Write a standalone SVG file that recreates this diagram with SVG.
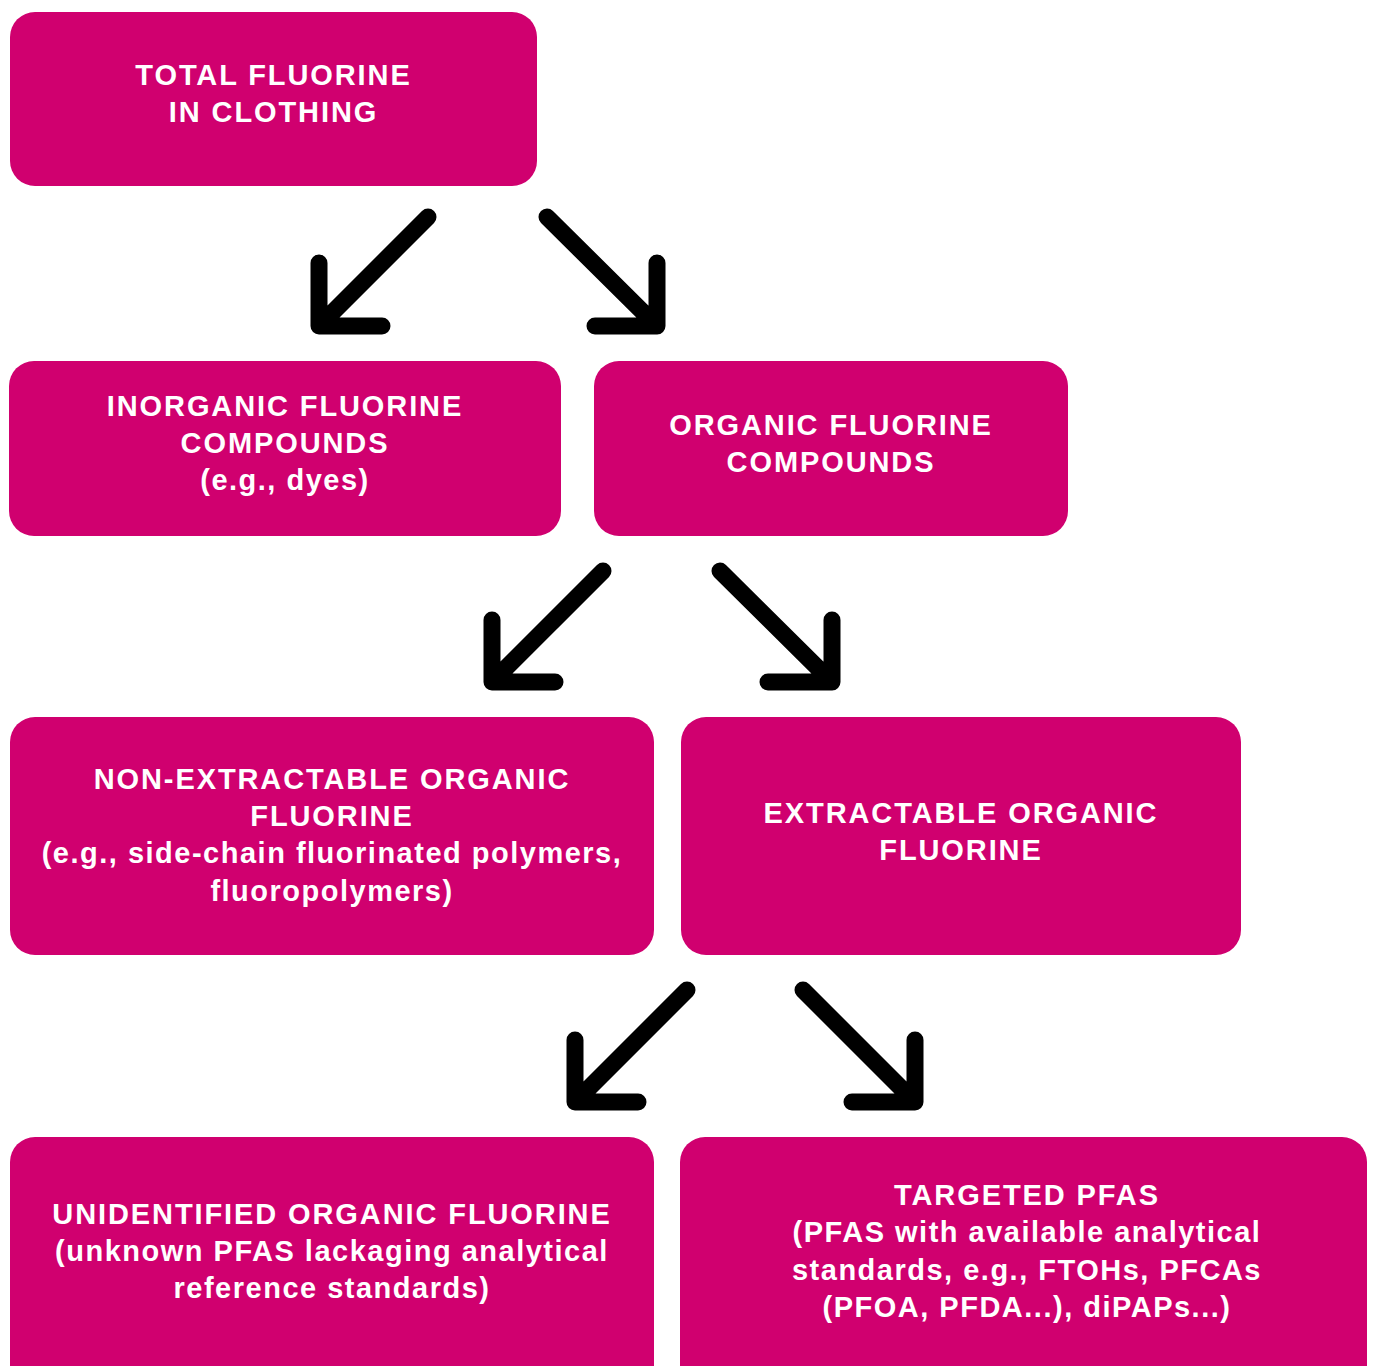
<svg xmlns="http://www.w3.org/2000/svg" width="1375" height="1366" viewBox="0 0 1375 1366">
<style>
.box{fill:#D0006F}
.t{font-family:"Liberation Sans",Arial,sans-serif;font-weight:bold;font-size:29px;fill:#fff;text-anchor:middle;letter-spacing:1.5px}
.u{letter-spacing:1.9px}
.a{fill:none;stroke:#000;stroke-width:17;stroke-linecap:round;stroke-linejoin:round}
</style>
<rect width="1375" height="1366" fill="#fff"/>
<g id="n1"><rect class="box" x="10" y="12" width="527" height="174" rx="25"/>
<text class="t u" x="273.5" y="85">TOTAL FLUORINE</text>
<text class="t u" x="273.5" y="122">IN CLOTHING</text></g>
<g id="n2"><rect class="box" x="9" y="361" width="552" height="175" rx="25"/>
<text class="t u" x="285" y="416">INORGANIC FLUORINE</text>
<text class="t u" x="285" y="453">COMPOUNDS</text>
<text class="t" x="285" y="490">(e.g., dyes)</text></g>
<g id="n3"><rect class="box" x="594" y="361" width="474" height="175" rx="25"/>
<text class="t u" x="831" y="435">ORGANIC FLUORINE</text>
<text class="t u" x="831" y="472">COMPOUNDS</text></g>
<g id="n4"><rect class="box" x="10" y="717" width="644" height="238" rx="25"/>
<text class="t u" x="332" y="789">NON-EXTRACTABLE ORGANIC</text>
<text class="t u" x="332" y="826">FLUORINE</text>
<text class="t" x="332" y="863">(e.g., side-chain fluorinated polymers,</text>
<text class="t" x="332" y="901">fluoropolymers)</text></g>
<g id="n5"><rect class="box" x="681" y="717" width="560" height="238" rx="25"/>
<text class="t u" x="961" y="823">EXTRACTABLE ORGANIC</text>
<text class="t u" x="961" y="860">FLUORINE</text></g>
<g id="n6"><rect class="box" x="10" y="1137" width="644" height="260" rx="25"/>
<text class="t u" x="332" y="1224">UNIDENTIFIED ORGANIC FLUORINE</text>
<text class="t" x="332" y="1261">(unknown PFAS lackaging analytical</text>
<text class="t" x="332" y="1298">reference standards)</text></g>
<g id="n7"><rect class="box" x="680" y="1137" width="687" height="260" rx="25"/>
<text class="t u" x="1027" y="1205">TARGETED PFAS</text>
<text class="t" x="1027" y="1242">(PFAS with available analytical</text>
<text class="t" x="1027" y="1280">standards, e.g., FTOHs, PFCAs</text>
<text class="t" x="1027" y="1317">(PFOA, PFDA...), diPAPs...)</text></g>
<g id="connectors">
<path class="a" d="M428,217 L319,326 M319,263 V326 H382"/>
<path class="a" d="M547,217 L657,326 M657,263 V326 H595"/>
<path class="a" d="M603,571 L492,682 M492,620 V682 H555"/>
<path class="a" d="M720,571 L832,682 M832,620 V682 H768"/>
<path class="a" d="M687,990 L575,1102 M575,1040 V1102 H638"/>
<path class="a" d="M803,990 L915,1102 M915,1040 V1102 H852"/>
</g>
</svg>
